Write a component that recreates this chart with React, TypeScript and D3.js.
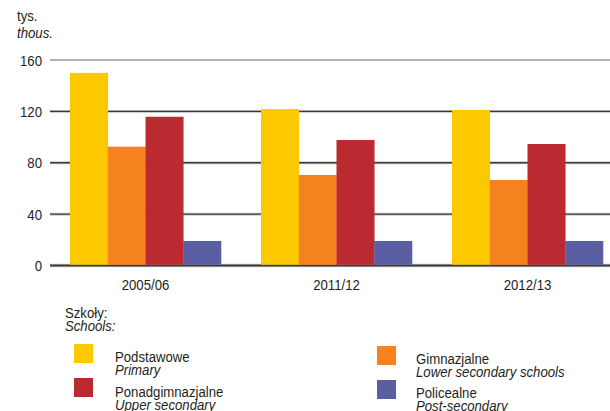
import React from "react";
import * as d3 from "d3";

const years = ["2005/06", "2011/12", "2012/13"];
const seriesKeys = ["Podstawowe", "Gimnazjalne", "Ponadgimnazjalne", "Policealne"];
const seriesEn = ["Primary", "Lower secondary schools", "Upper secondary", "Post-secondary"];
const colors = ["#fcc800", "#f5821f", "#bb2a31", "#5a5ea3"];
const primary = [150, 121.8, 121.1];
const lowerSecondary = [92.5, 70.5, 66.6];
const upperSecondary = [115.8, 97.7, 94.6];
const postSecondary = [19.1, 19.1, 19.1];
const yTicks = [0, 40, 80, 120, 160];

const values = [primary, lowerSecondary, upperSecondary, postSecondary];

const W = 610;
const H = 411;
const FONT = "'Liberation Sans', Arial, sans-serif";
const TEXT = "#231f20";
const FS = 15.5;
const SX = 0.85;

function NText({ x, y, anchor = "start", italic = false, dy, children }: any) {
  return (
    <text
      transform={`translate(${x},${y}) scale(${SX},1)`}
      textAnchor={anchor}
      dy={dy}
      fontSize={FS}
      fill={TEXT}
      fontStyle={italic ? "italic" : "normal"}
    >
      {children}
    </text>
  );
}

export default function App() {
  const y = d3.scaleLinear().domain([0, 160]).range([265.5, 60]);
  const x0 = d3.scaleBand<string>().domain(years).range([50, 623]).paddingInner(0.2094).paddingOuter(0.1047);
  const x1 = d3.scaleBand<number>().domain([0, 1, 2, 3]).range([0, x0.bandwidth()]);

  const legendPos = [
    { sx: 74, sy: 344, tx: 115, ty: 362 },
    { sx: 377, sy: 346, tx: 416, ty: 364 },
    { sx: 74, sy: 378, tx: 115, ty: 397 },
    { sx: 377, sy: 380, tx: 416, ty: 398 },
  ];

  return (
    <svg width={W} height={H} style={{ position: "absolute", left: 0, top: 0, background: "#fff" }} fontFamily={FONT}>
      <NText x={17} y={21}>tys.</NText>
      <NText x={17} y={38} italic>thous.</NText>
      {yTicks.map((t) => (
        <g key={t}>
          {t === 160 ? (
            <line x1={50} x2={W} y1={y(t)} y2={y(t)} stroke="#999" strokeWidth={1.5} />
          ) : (
            <>
              <line x1={50} x2={W} y1={y(t)} y2={y(t)} stroke="#ccc" strokeWidth={t === 0 ? 3.5 : 3} />
              <line x1={50} x2={W} y1={y(t)} y2={y(t)} stroke="#3a3a3a" strokeWidth={t === 0 ? 2 : 1.3} />
            </>
          )}
          <NText x={42} y={y(t)} dy="0.36em" anchor="end">{t}</NText>
        </g>
      ))}
      {years.map((yr, i) => (
        <g key={yr} transform={`translate(${x0(yr)},0)`}>
          {values.map((s, k) => (
            <rect key={k} x={x1(k)} y={y(s[i])} width={x1.bandwidth() + 0.3} height={y(0) - y(s[i]) - 0.8} fill={colors[k]} />
          ))}
        </g>
      ))}
      {years.map((yr) => (
        <NText key={yr} x={(x0(yr) as number) + x0.bandwidth() / 2} y={290} anchor="middle">{yr}</NText>
      ))}
      <NText x={65} y={318}>Szkoły:</NText>
      <NText x={65} y={331} italic>Schools:</NText>
      {seriesKeys.map((k, i) => {
        const p = legendPos[i];
        return (
          <g key={k}>
            <rect x={p.sx} y={p.sy} width={19} height={19} fill={colors[i]} />
            <NText x={p.tx} y={p.ty}>{k}</NText>
            <NText x={p.tx} y={p.ty + 12.5} italic>{seriesEn[i]}</NText>
          </g>
        );
      })}
    </svg>
  );
}
